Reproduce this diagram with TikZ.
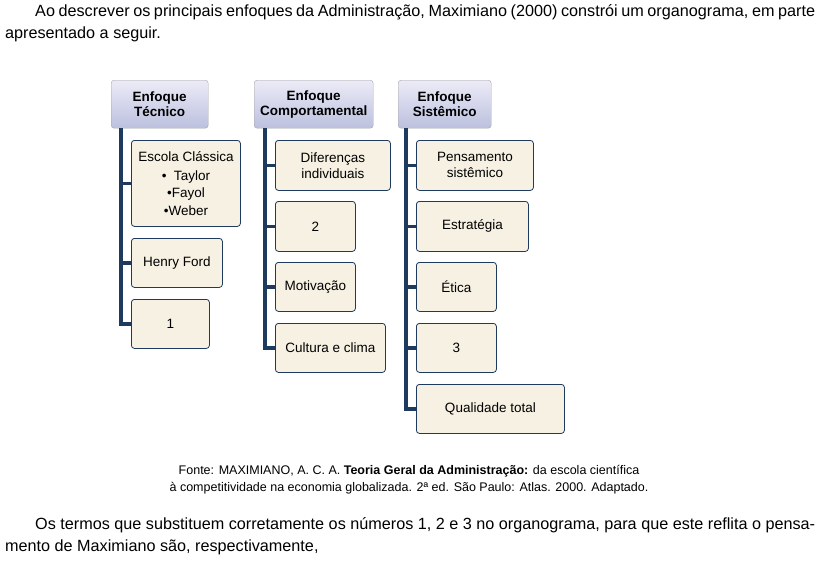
\documentclass[tikz,border=0pt]{standalone}
\usepackage{fontspec}
\setmainfont{Liberation Sans}
\usetikzlibrary{positioning}
\definecolor{navy}{HTML}{1F3A5F}
\definecolor{cream}{HTML}{F6F1E2}
\definecolor{lavtop}{HTML}{ECEBF7}
\definecolor{lavbot}{HTML}{BCC0DE}
\tikzset{
  head/.style={draw=gray!70, rounded corners=3pt, top color=lavtop, bottom color=lavbot,
    anchor=north west, inner sep=0pt, align=center, font=\bfseries\fontsize{13.5}{15}\selectfont, minimum height=48pt},
  item/.style={draw=navy, thick, rounded corners=3pt, fill=cream, anchor=north west,
    inner sep=0pt, align=center, font=\fontsize{13.5}{16}\selectfont},
  conn/.style={navy, line width=3.5pt},
  para/.style={anchor=north west, inner sep=0pt, text width=810pt, align=justify, font=\fontsize{16.2}{22}\selectfont}
}
\begin{document}
\begin{tikzpicture}[x=1pt,y=-1pt]
\useasboundingbox[fill=white] (0,0) rectangle (819,570);
\node[para] (intro) at (5,4) {\hspace*{30pt}Ao descrever os principais enfoques da Administração, Maximiano (2000) constrói um organograma, em parte apresentado a seguir.};
% cabeçalhos
\node[head, minimum width=97pt] (tec) at (111,80) {Enfoque\\Técnico};
\node[head, minimum width=119pt] (comp) at (254,80) {Enfoque\\Comportamental};
\node[head, minimum width=93pt] (sis) at (398,80) {Enfoque\\Sistêmico};
% coluna técnica
\node[item, minimum width=109pt, minimum height=86pt, font=\fontsize{13.5}{17.5}\selectfont] (t1) at (131,140)
  {Escola Clássica\\[1pt] \textbullet\ \ Taylor\\ \textbullet Fayol\\ \textbullet Weber};
\node[item, minimum width=91pt, minimum height=49pt] (t2) at (131,238) {Henry Ford};
\node[item, minimum width=78pt, minimum height=49pt] (t3) at (131,299) {1};
% coluna comportamental
\node[item, minimum width=115pt, minimum height=50pt] (c1) at (275,140) {Diferenças\\individuais};
\node[item, minimum width=80pt, minimum height=50pt] (c2) at (275,201) {2};
\node[item, minimum width=80pt, minimum height=49pt] (c3) at (275,262) {Motivação};
\node[item, minimum width=110pt, minimum height=49pt] (c4) at (275,323) {Cultura e clima};
% coluna sistêmica
\node[item, minimum width=117pt, minimum height=50pt] (s1) at (416,140) {Pensamento\\sistêmico};
\node[item, minimum width=112pt, minimum height=50pt] (s2) at (416,201) {Estratégia};
\node[item, minimum width=80pt, minimum height=49pt] (s3) at (416,262) {Ética};
\node[item, minimum width=80pt, minimum height=49pt] (s4) at (416,323) {3};
\node[item, minimum width=148pt, minimum height=49pt] (s5) at (416,384) {Qualidade total};
% ligações
\coordinate (tt) at ([xshift=10pt]tec.south west);
\coordinate (ct) at ([xshift=11pt]comp.south west);
\coordinate (st) at ([xshift=8pt]sis.south west);
\draw[conn] (tt) |- (t3.west);
\draw[conn] (ct) |- (c4.west);
\draw[conn] (st) |- (s5.west);
\foreach \n in {t1,t2} \draw[conn] (tt |- \n.west) -- (\n.west);
\foreach \n in {c1,c2,c3} \draw[conn] (ct |- \n.west) -- (\n.west);
\foreach \n in {s1,s2,s3,s4} \draw[conn] (st |- \n.west) -- (\n.west);
% fonte
\node[align=center, font=\fontsize{12.5}{17}\selectfont] (fonte) at (409,480)
  {Fonte: MAXIMIANO, A. C. A. \textbf{Teoria Geral da Administração:} da escola científica\\à competitividade na economia globalizada. 2ª ed. São Paulo: Atlas. 2000. Adaptado.};
\node[para] (pergunta) at (5,517) {\hspace*{30pt}Os termos que substituem corretamente os números 1, 2 e 3 no organograma, para que este reflita o pensamento de Maximiano são, respectivamente,};
\end{tikzpicture}
\end{document}
